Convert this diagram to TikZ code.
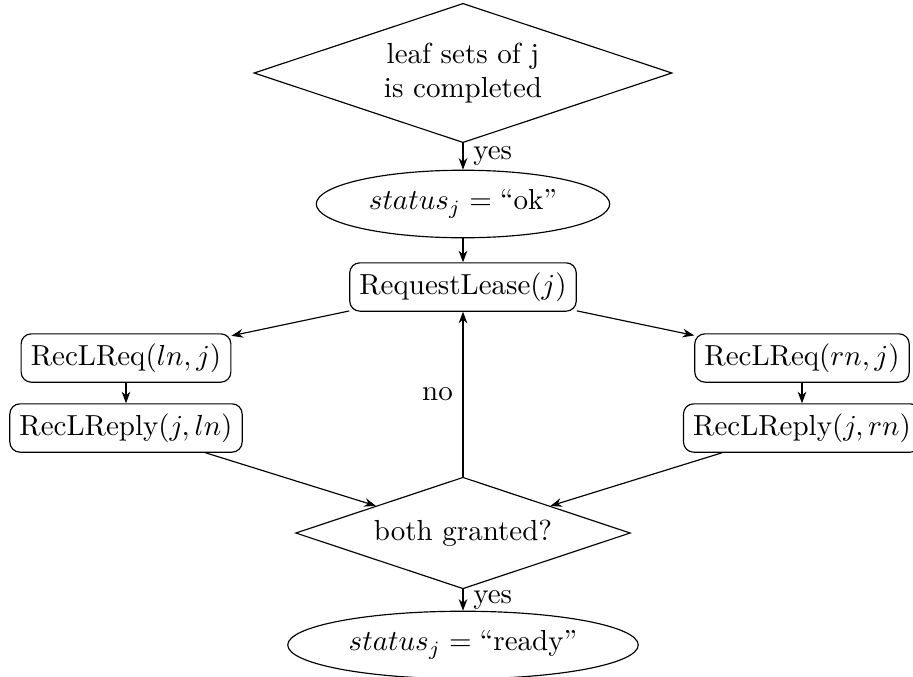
\documentclass[tikz,border=0pt]{standalone}
\usetikzlibrary{shapes.geometric,arrows.meta}
\begin{document}
\begin{tikzpicture}[x=0.3448pt,y=-0.3448pt,
  dec/.style={draw,diamond,aspect=3,align=center},
  oval/.style={draw,ellipse},
  proc/.style={draw,rectangle,rounded corners=3.5pt},
  arr/.style={-{Stealth[length=4pt,width=3pt]}}]
\useasboundingbox (0,0) rectangle (913,677);
\node[dec] (d1) at (463,73) {leaf sets of j\\is completed};
\node[oval] (e1) at (463,204) {$status_j = \mbox{``ok''}$};
\node[proc] (rl) at (463,287) {RequestLease$(j)$};
\node[proc] (lreq) at (126,358) {RecLReq$(ln, j)$};
\node[proc] (lrep) at (126,428) {RecLReply$(j, ln)$};
\node[proc] (rreq) at (802,358) {RecLReq$(rn, j)$};
\node[proc] (rrep) at (802,428) {RecLReply$(j, rn)$};
\node[dec] (d2) at (463,533) {both granted?};
\node[oval] (e2) at (463,645) {$status_j = \mbox{``ready''}$};
\draw[arr] (d1) -- node[right]{yes} (e1);
\draw[arr] (e1) -- (rl);
\draw[arr] (rl) -- (lreq);
\draw[arr] (rl) -- (rreq);
\draw[arr] (lreq) -- (lrep);
\draw[arr] (rreq) -- (rrep);
\draw[arr] (lrep) -- (d2);
\draw[arr] (rrep) -- (d2);
\draw[arr] (d2) -- node[left]{no} (rl);
\draw[arr] (d2) -- node[right]{yes} (e2);
\end{tikzpicture}
\end{document}
